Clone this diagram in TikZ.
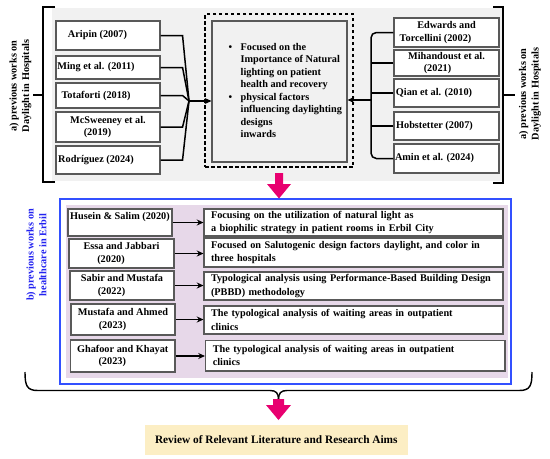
\documentclass[tikz,border=0pt]{standalone}
\usepackage{fontspec}
\setmainfont{Liberation Serif}
\usetikzlibrary{arrows.meta}
\newlength\pxl \setlength\pxl{0.75pt}
\newcommand\lft[2]{\hspace*{0pt}#2\hspace*{#1\pxl}\hspace*{#1\pxl}\mbox{}}
\definecolor{pinkarr}{RGB}{232,0,112}
\definecolor{lav}{RGB}{231,216,233}
\definecolor{bluef}{RGB}{50,80,255}
\definecolor{bluet}{RGB}{35,35,240}
\definecolor{yel}{RGB}{252,238,196}
\definecolor{bggray}{RGB}{241,241,241}
\begin{document}
\begin{tikzpicture}[x=0.75pt,y=-0.75pt,
  every node/.style={font=\fontsize{7.7}{9.4}\selectfont\bfseries},
  rect/.style n args={4}{at={({(#1+#3)/2},{(#2+#4)/2})}, minimum width={(#3-#1)*\pxl}, minimum height={(#4-#2)*\pxl}},
  box/.style={draw=black!65, line width=1.1*\pxl, fill=white, inner sep=0pt, align=center},
  rbox/.style={box, align=left, text width=285*\pxl, font=\fontsize{7.7}{10}\selectfont\bfseries},
  conn/.style={line width=1.5*\pxl, black},
  arr/.style={conn, -{Stealth[length=5pt,width=4.5pt]}},
  brk/.style={line width=1.4*\pxl, black},
  lbl/.style={rotate=90, align=center}
]
\useasboundingbox (0,0) rectangle (550,458);
% backgrounds
\fill[bggray] (52,8) rectangle (502,181);
\draw[line width=1.5*\pxl, draw=bluef, fill=white] (60,199) rectangle (511,384);
\fill[lav] (65.5,205) rectangle (508,377.5);

% brackets
\draw[brk] (55,7) -- (43,7) -- (43,182) -- (55,182);
\draw[brk] (43,95) -- (33,95);
\draw[brk] (493,7) -- (503,7) -- (503,183) -- (493,183);
\draw[brk] (503,95) -- (515,95);

% side labels
\node[lbl] (la) at (20.5,86) {a) previous works on\\Daylight in Hospitals};
\node[lbl] (ra) at (530,94) {a) previous works on\\Daylight in Hospitals};
\node[lbl, text=bluet] (lb) at (36.5,255) {b) previous works on\\healthcare in Erbil};

% centre boxes
\node[draw, line width=1.5*\pxl, dash pattern=on 3.5*\pxl off 2.5*\pxl, inner sep=0pt, rect={205}{14}{353}{167}] (dash) {};
\node[draw=black!65, line width=1.1*\pxl, inner sep=0pt, rect={212}{21}{347}{162}] (inner) {};
\node[anchor=west, inner sep=0pt] (ctext) at (228.3,91.5) {%
\begin{tabular}{@{}l@{\hspace{8.5\pxl}}l@{}}
\textbullet & Focused on the\\
 & Importance of Natural\\
 & lighting on patient\\
 & health and recovery\\
\textbullet & physical factors\\
 & influencing daylighting\\
 & designs\\
 & inwards
\end{tabular}};

% top-left boxes
\node[box, rect={56}{21}{160}{50}] (a1) {\lft{10.5}{Aripin (2007)}};
\node[box, rect={56}{56}{160}{79}] (a2) {\lft{12}{Ming et al. (2011)}};
\node[box, rect={56}{83}{160}{108}] (a3) {\lft{12}{Totaforti (2018)}};
\node[box, rect={56}{112}{160}{142}] (a4) {McSweeney et al.\\\lft{10.5}{(2019)}};
\node[box, rect={56}{146}{160}{174}] (a5) {\lft{12}{Rodríguez (2024)}};

% top-right boxes
\node[box, rect={394}{18}{499}{47}] (r1) {Edwards and\\\lft{11}{Torcellini (2002)}};
\node[box, rect={394}{50}{499}{76}] (r2) {Mihandoust et al.\\\lft{9}{(2021)}};
\node[box, rect={394}{79}{499}{107}] (r3) {\lft{12.5}{Qian et al. (2010)}};
\node[box, rect={394}{112}{499}{140}] (r4) {\lft{12}{Hobstetter (2007)}};
\node[box, rect={394}{144}{499}{173}] (r5) {\lft{12}{Amin et al. (2024)}};

% top connectors
\coordinate (cl) at (189,101);
\coordinate (cr) at (371,100);
\foreach \i in {1,...,5}{
  \draw[conn] (a\i.east) -- ++(22,0) -- (cl);
}
\draw[arr] (cl) -- (cl -| inner.west);
\draw[conn, rounded corners=4pt] (r1.west) -| (cr);
\draw[conn, rounded corners=4pt] (r5.west) -| (cr);
\foreach \i in {2,3,4}{
  \draw[conn] (r\i.west) -- (r\i.west -| cr);
}
\draw[arr] (cr) -- (cr -| inner.east);

% pink arrow 1
\fill[pinkarr] (275,173) -- (283,173) -- (283,184) -- (291,184) -- (279,198.5) -- (267,184) -- (275,184) -- cycle;

% bottom-left boxes
\node[box, rect={68}{209}{172}{236}] (b1) {Husein \& Salim (2020)\\\mbox{}};
\node[box, rect={69}{239}{174}{268}] (b2) {Essa and Jabbari\\\lft{10.5}{(2020)}};
\node[box, rect={70}{271}{174}{300}] (b3) {Sabir and Mustafa\\\lft{10.5}{(2022)}};
\node[box, rect={71}{304}{175}{335}] (b4) {Mustafa and Ahmed\\\lft{10.5}{(2023)}};
\node[box, rect={70.5}{340}{175}{372}] (b5) {Ghafoor and Khayat\\\lft{10.5}{(2023)}};

% bottom-right boxes
\node[rbox, rect={204}{209}{503}{236}] (c1) {Focusing on the utilization of natural light as\\a biophilic strategy in patient rooms in Erbil City};
\node[rbox, rect={204}{238}{503}{267}] (c2) {Focused on Salutogenic design factors daylight, and color in\\three hospitals};
\node[rbox, rect={204}{272}{503}{300}] (c3) {Typological analysis using Performance-Based Building Design\\(PBBD) methodology};
\node[rbox, rect={204}{306}{503}{334}] (c4) {The typological analysis of waiting areas in outpatient\\clinics};
\node[rbox, rect={205.5}{340.5}{505}{371}] (c5) {The typological analysis of waiting areas in outpatient\\clinics};

\foreach \i in {1,...,5}{
  \draw[arr] (b\i.east) -- (b\i.east -| c\i.west);
}

% bottom brace
\coordinate (bt) at (278.5,399.5);
\draw[brk] (25,372) .. controls (25,386) and (27,390.5) .. (38,390.5) -- (270,390.5)
  .. controls (276,390.5) and (278.5,393) .. (bt);
\draw[brk] (532,372) .. controls (532,386) and (530,390.5) .. (519,390.5) -- (287,390.5)
  .. controls (281,390.5) and (278.5,393) .. (bt);

% pink arrow 2
\fill[pinkarr] (273,399) -- (284,399) -- (284,405) -- (291,405) -- (278.5,420) -- (266,405) -- (273,405) -- cycle;

% final box
\node[fill=yel, inner sep=0pt, rect={144.6}{424.5}{408}{455}, font=\fontsize{8.5}{10}\selectfont\bfseries] (fin) {Review of Relevant Literature and Research Aims};
\end{tikzpicture}
\end{document}
